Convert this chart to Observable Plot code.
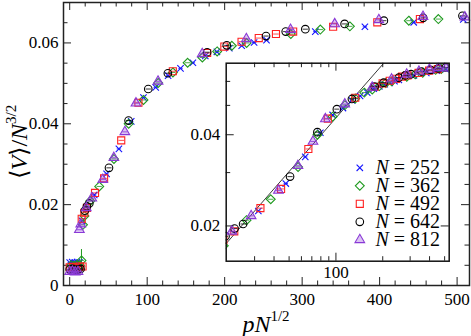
<!DOCTYPE html>
<html><head><meta charset="utf-8">
<script src="https://cdn.jsdelivr.net/npm/d3@7"></script>
<script src="https://cdn.jsdelivr.net/npm/@observablehq/plot@0.6"></script>
<style>
body{margin:0;background:#fff;}
#wrap{position:relative;width:471px;height:336px;font-family:"Liberation Serif","Times New Roman",serif;color:#000;}
#main{position:absolute;left:0;top:0;}
#inset{position:absolute;left:185px;top:55px;}
#wrap svg text{font-family:"Liberation Serif","Times New Roman",serif;}
.lab{position:absolute;font-size:24px;white-space:nowrap;line-height:1;}
.lab sup{font-size:15px;vertical-align:baseline;position:relative;top:-11px;}
#xlab{left:266px;top:311.6px;transform:translateX(-50%);}
#ylab{left:19px;top:142px;transform:translate(-50%,-50%) rotate(-90deg);}
</style></head><body>
<div id="wrap">
  <div id="main"></div>
  <div id="inset"></div>
  <div class="lab" id="xlab"><i>pN</i><sup>1/2</sup></div>
  <div class="lab" id="ylab">⟨<i>V</i>⟩/<i>N</i><sup>3/2</sup></div>
</div>
<script>
// ---- data ----
const sizes = [252, 362, 492, 642, 812];

const x252 = [0, 3.2, 6.3, 9.5, 12.7, 15.9, 31.7, 47.6, 63.5, 79.4, 95.2, 111, 127, 143, 159, 175, 190, 206, 222, 238, 254, 317, 381, 444, 508];
const y252 = [0.0057, 0.0058, 0.0056, 0.0058, 0.0057, 0.0160, 0.0224, 0.0276, 0.0338, 0.0406, 0.0465, 0.0490, 0.0519, 0.0537, 0.0551, 0.0568, 0.0578, 0.0587, 0.0593, 0.0601, 0.0607, 0.0628, 0.0640, 0.0651, 0.0658];

const x362 = [1.9, 5.7, 9.5, 13.3, 15.2, 17.1, 19.0, 26.6, 38.1, 57.1, 76.1, 95.2, 114.2, 133.2, 152.2, 171.2, 190.3, 209.3, 228.3, 285.4, 323.5, 361.6, 437.7, 475.8];
const y362 = [0.0050, 0.0049, 0.0051, 0.0050, 0.0062, 0.0150, 0.0172, 0.0209, 0.0245, 0.0313, 0.0400, 0.0459, 0.0501, 0.0527, 0.0551, 0.0564, 0.0579, 0.0593, 0.0600, 0.0622, 0.0633, 0.0641, 0.0655, 0.0659];

const x492 = [0, 4.4, 8.9, 13.3, 16.6, 15.5, 18.9, 22.2, 32.7, 44.4, 66.5, 88.7, 133.1, 177.4, 199.6, 221.8, 244.0, 266.2, 288.4, 340, 397, 452];
const y492 = [0.0045, 0.0046, 0.0044, 0.0047, 0.0047, 0.0165, 0.0180, 0.0192, 0.0229, 0.0265, 0.0359, 0.0452, 0.0530, 0.0575, 0.0591, 0.0603, 0.0612, 0.0622, 0.0628, 0.0640, 0.0651, 0.0659];

const x642 = [0, 3.8, 7.6, 11.4, 14.0, 19.5, 22.3, 25.3, 50.7, 76.0, 101.4, 126.7, 177.4, 202.7, 253.4, 278.8, 304.1, 354.8, 405.5, 456.2, 506.9];
const y642 = [0.0040, 0.0041, 0.0039, 0.0040, 0.0041, 0.0185, 0.0196, 0.0203, 0.0291, 0.0408, 0.0486, 0.0525, 0.0577, 0.0594, 0.0617, 0.0628, 0.0634, 0.0647, 0.0655, 0.0662, 0.0667];

const x812 = [0, 3.6, 7.1, 10.7, 12.5, 14.3, 21.4, 28.5, 42.7, 57.0, 71.2, 85.5, 114.0, 171.0, 228.0, 285.0, 342.0, 399.0, 456.0, 510.0];
const y812 = [0.0034, 0.0035, 0.0033, 0.0034, 0.0138, 0.0152, 0.0192, 0.0216, 0.0262, 0.0316, 0.0380, 0.0451, 0.0505, 0.0573, 0.0610, 0.0633, 0.0647, 0.0657, 0.0665, 0.0664];

// error bar visible on one N=362 point
const errX = [15.2], errLo = [0.0035], errHi = [0.0089];

// power-law guide line in the inset (end points)
const fitX = [19.7, 203], fitY = [0.0175, 0.0689];

// ticks
const xMajor = [0, 100, 200, 300, 400, 500];
const xMinor = [20,40,60,80,120,140,160,180,220,240,260,280,320,340,360,380,420,440,460,480];
const yMajor = [0, 0.02, 0.04, 0.06];
const yMinor = [0.005,0.01,0.015,0.025,0.03,0.035,0.045,0.05,0.055,0.065];
const inXMajor = [100], inXMinor = [30,40,50,60,70,80,90,200,300,400,500];
const inYMajor = [0.02, 0.04], inYMinor = [0.03, 0.05, 0.06];

// ---- styles ----
const colors = ["#1414ff", "#1f9a1f", "#ff2020", "#000000", "#8a3ad6"];
const styles = [
  {symbol: "times",    r: 3,   stroke: colors[0], fill: "none"},
  {symbol: "diamond2", r: 4,   stroke: colors[1], fill: "none"},
  {symbol: "square2",  r: 4.5, stroke: colors[2], fill: "none"},
  {symbol: "circle",   r: 3.8, stroke: colors[3], fill: "none"},
  {symbol: "triangle2",r: 4.6, stroke: colors[4], fill: colors[4], fillOpacity: 0.3}
];
// tiny error-bar caps seen inside the markers
const capSymbol = {draw(ctx, size) { const h = Math.sqrt(size / Math.PI); ctx.moveTo(-h, 0); ctx.lineTo(h, 0); }};
const capR = [2.2, 2.6, 2.8, 2.6, 2.6];

const rows = (xs, ys) => xs.map((x, i) => ({x, y: ys[i]}));
const series = [rows(x252,y252), rows(x362,y362), rows(x492,y492), rows(x642,y642), rows(x812,y812)];
const font = "Liberation Serif, Times New Roman, serif";

function dotMarks(clip) {
  const out = [];
  series.forEach((d, i) => {
    out.push(Plot.dot(d, {x: "x", y: "y", ...styles[i], strokeWidth: 1.1, clip}));
    out.push(Plot.dot(d, {x: "x", y: "y", symbol: capSymbol, r: capR[i], stroke: colors[i], strokeWidth: 0.8, clip}));
  });
  return out;
}
function frameTicks(xs, ys, len, fw, fh) {
  return [
    Plot.ruleX(xs, {x: d => d, insetTop: fh - len, stroke: "#222"}),
    Plot.ruleX(xs, {x: d => d, insetBottom: fh - len, stroke: "#222"}),
    Plot.ruleY(ys, {y: d => d, insetRight: fw - len, stroke: "#222"}),
    Plot.ruleY(ys, {y: d => d, insetLeft: fw - len, stroke: "#222"})
  ];
}

// ---- main chart ----
const W = 471, H = 336, mL = 63, mR = 2, mT = 2, mB = 51;
const fw = W - mL - mR, fh = H - mT - mB;
const main = Plot.plot({
  width: W, height: H, marginLeft: mL, marginRight: mR, marginTop: mT, marginBottom: mB,
  x: {domain: [-8, 516]},
  y: {domain: [0, 0.07]},
  style: {fontFamily: font, fontSize: "17px", background: "transparent", overflow: "visible"},
  marks: [
    ...frameTicks(xMinor, yMinor, 4.5, fw, fh),
    ...frameTicks(xMajor, yMajor, 8, fw, fh),
    Plot.axisX(xMajor, {anchor: "bottom", tickSize: 0, tickPadding: 7, tickFormat: d => String(d), label: null, fontSize: 17, fontFamily: font}),
    Plot.axisY(yMajor, {anchor: "left", tickSize: 0, tickPadding: 5, tickFormat: d => d === 0 ? "0" : d.toFixed(2), label: null, fontSize: 17, fontFamily: font}),
    Plot.ruleX(errX.map((x, i) => ({x, y1: errLo[i], y2: errHi[i]})), {x: "x", y1: "y1", y2: "y2", stroke: colors[1], strokeWidth: 1}),
    ...dotMarks(false),
    Plot.frame({stroke: "#222", strokeWidth: 1.5})
  ]
});
document.getElementById("main").appendChild(main);

// ---- inset ----
const iW = 270, iH = 232, iL = 40.7, iT = 7.7, iR = 6.3, iB = 26.3;
const ifw = iW - iL - iR, ifh = iH - iT - iB;
const legendMarks = [];
sizes.forEach((n, i) => {
  const dy = -21.4 - (4 - i) * 18;
  legendMarks.push(Plot.dot([n], {frameAnchor: "bottom-right", dx: -89.4, dy, ...styles[i], strokeWidth: 1.1}));
  legendMarks.push(Plot.text(["N"], {text: d => d, frameAnchor: "bottom-right", dx: -73.7, dy, textAnchor: "start", lineAnchor: "middle", fontStyle: "italic", fontSize: 20, fontFamily: font}));
  legendMarks.push(Plot.text([n], {text: d => "= " + d, frameAnchor: "bottom-right", dx: -55.4, dy, textAnchor: "start", lineAnchor: "middle", fontSize: 20, fontFamily: font}));
});
const inset = Plot.plot({
  width: iW, height: iH, marginLeft: iL, marginRight: iR, marginTop: iT, marginBottom: iB,
  x: {type: "log", domain: [19.7, 535]},
  y: {type: "log", domain: [0.0153, 0.0689]},
  style: {fontFamily: font, fontSize: "17px", background: "transparent", overflow: "visible"},
  marks: [
    Plot.frame({fill: "white", stroke: null}),
    ...frameTicks(inXMinor, inYMinor, 4.5, ifw, ifh),
    ...frameTicks(inXMajor, inYMajor, 8, ifw, ifh),
    Plot.axisX(inXMajor, {anchor: "bottom", tickSize: 0, tickPadding: 5, tickFormat: d => String(d), label: null, fontSize: 17, fontFamily: font}),
    Plot.axisY(inYMajor, {anchor: "left", tickSize: 0, tickPadding: 6, tickFormat: d => d.toFixed(2), label: null, fontSize: 17, fontFamily: font}),
    Plot.line(rows(fitX, fitY), {x: "x", y: "y", stroke: "#222", strokeWidth: 0.9, clip: true}),
    ...dotMarks(true),
    ...legendMarks,
    Plot.frame({stroke: "#111", strokeWidth: 1.5})
  ]
});
document.getElementById("inset").appendChild(inset);
</script>
</body></html>
